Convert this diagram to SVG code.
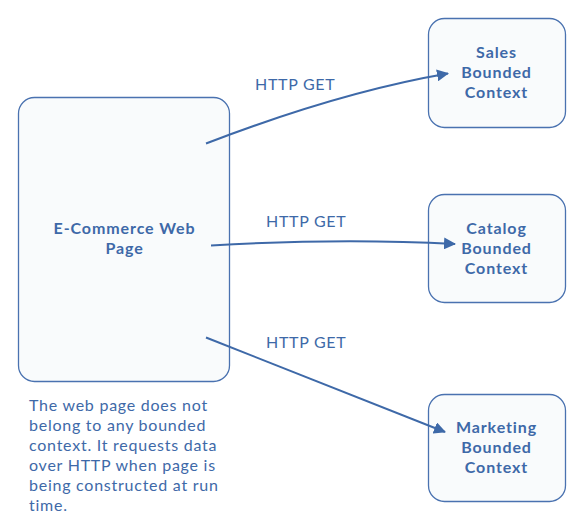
<svg xmlns="http://www.w3.org/2000/svg" width="584" height="528" viewBox="0 0 584 528">
<defs>
<style>
.box{fill:#f9fbfc;stroke:#4a72b0;stroke-width:1.3}
.nt{font-family:Lato,"Noto Sans",sans-serif;font-weight:bold;font-size:16px;letter-spacing:0.9px;fill:#3e69a8;text-anchor:middle}
.lb{font-family:Lato,"Noto Sans",sans-serif;font-size:16px;letter-spacing:0.7px;fill:#3e69a8}
.note{font-family:Lato,"Noto Sans",sans-serif;font-size:16px;letter-spacing:0.75px;fill:#3e69a8}
.cn{fill:none;stroke:#3e69a8;stroke-width:2}
</style>
<marker id="ah" markerWidth="12" markerHeight="12" viewBox="0 0 12 12" refX="11" refY="6" orient="auto" markerUnits="userSpaceOnUse">
<path d="M0,0 L12,6 L0,12 z" fill="#3e69a8"/>
</marker>
</defs>
<rect width="584" height="528" fill="#ffffff"/>
<g id="ecommerce">
<rect class="box" x="18.5" y="97.5" width="211" height="284" rx="16"/>
<text class="nt" x="124.5" y="234">E-Commerce Web</text>
<text class="nt" x="124.5" y="254">Page</text>
</g>
<g id="sales">
<rect class="box" x="428.5" y="18.5" width="137" height="109" rx="16"/>
<text class="nt" x="496.5" y="58">Sales</text>
<text class="nt" x="496.5" y="78">Bounded</text>
<text class="nt" x="496.5" y="98">Context</text>
</g>
<g id="catalog">
<rect class="box" x="428.5" y="194.5" width="137" height="108" rx="16"/>
<text class="nt" x="496.5" y="234">Catalog</text>
<text class="nt" x="496.5" y="254">Bounded</text>
<text class="nt" x="496.5" y="274">Context</text>
</g>
<g id="marketing">
<rect class="box" x="428.5" y="394.5" width="137" height="107" rx="16"/>
<text class="nt" x="496.5" y="433">Marketing</text>
<text class="nt" x="496.5" y="453">Bounded</text>
<text class="nt" x="496.5" y="473">Context</text>
</g>
<g id="connectors">
<path class="cn" d="M206,143.5 Q340,92 448,73.5" marker-end="url(#ah)"/>
<path class="cn" d="M211,245.5 Q340,238 455,244" marker-end="url(#ah)"/>
<path class="cn" d="M206,337.5 L445,432" marker-end="url(#ah)"/>
<text class="lb" x="255" y="90">HTTP GET</text>
<text class="lb" x="266" y="227">HTTP GET</text>
<text class="lb" x="266" y="348">HTTP GET</text>
</g>
<g id="note">
<text class="note" x="29" y="411">The web page does not</text>
<text class="note" x="29" y="431">belong to any bounded</text>
<text class="note" x="29" y="451">context. It requests data</text>
<text class="note" x="29" y="471">over HTTP when page is</text>
<text class="note" x="29" y="491">being constructed at run</text>
<text class="note" x="29" y="511">time.</text>
</g>
</svg>
